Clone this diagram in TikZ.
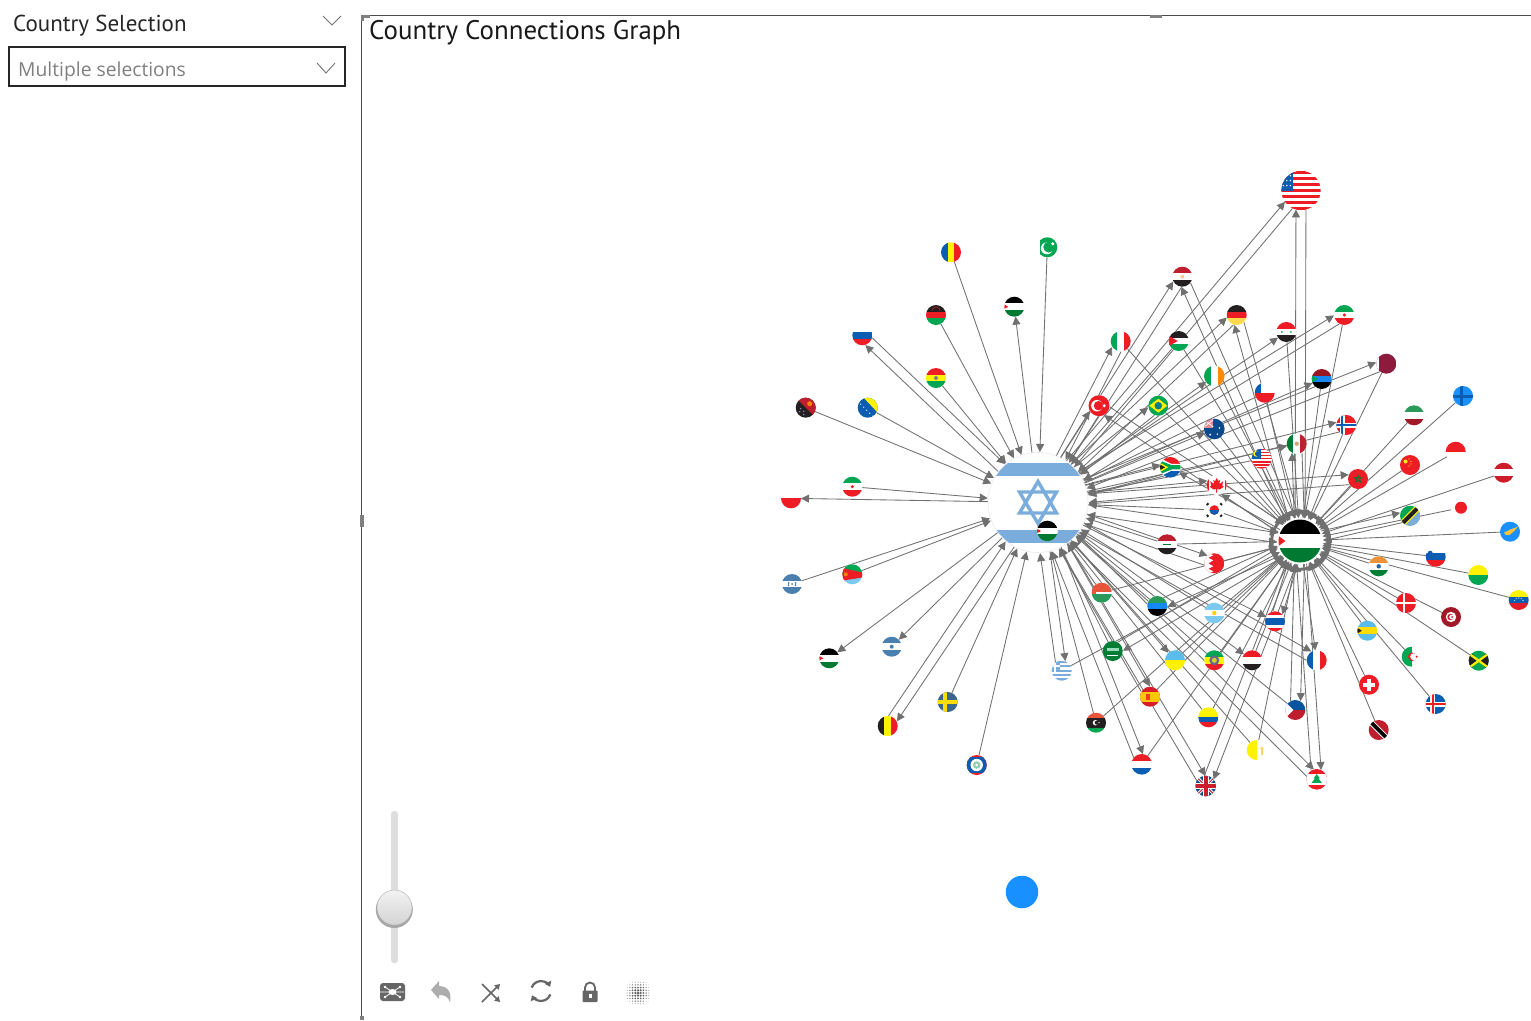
\documentclass[tikz,border=0pt]{standalone}
\usepackage{fontspec}
\setmainfont{PT Sans}
\newfontfamily\segoe{Open Sans}
\usetikzlibrary{arrows.meta,calc,backgrounds}
\definecolor{fr}{HTML}{EE1C25}
\definecolor{fdr}{HTML}{BE1E2D}
\definecolor{fg}{HTML}{00A651}
\definecolor{fdg}{HTML}{007A33}
\definecolor{fb}{HTML}{0A5DB0}
\definecolor{fk}{HTML}{231F20}
\definecolor{fy}{HTML}{FFF200}
\definecolor{fsb}{HTML}{4A80B0}
\definecolor{flb}{HTML}{7AADDC}
\definecolor{fsky}{HTML}{5ABCEB}
\definecolor{fdot}{HTML}{1890FF}
\definecolor{fmaroon}{HTML}{8D1B3D}
\definecolor{fomr}{HTML}{E8553A}
\definecolor{fomg}{HTML}{2A9A5B}
\definecolor{edgecol}{HTML}{707070}
\definecolor{iconcol}{HTML}{666666}
\tikzset{
  flagn/.style={circle,inner sep=0pt,outer sep=0pt,fill=white},
  edgeline/.style={draw=edgecol,line width=0.85pt,-{Triangle[length=8pt,width=8pt]}},
  uiline/.style={draw=#1,line width=0.9pt},
  knob/.style={circle,inner sep=0pt,minimum size=35pt,top color=white!95!black,bottom color=black!17,draw=black!30,line width=0.4pt}
}
\newcommand\fl[5]{\node[flagn,minimum size={2*#4*1pt},path picture={\begin{scope}[shift={(path picture bounding box.center)},x=#4pt,y=-#4pt]#5\end{scope}}] (#1) at (#2,#3) {};}
\newcommand\Rc[5]{\fill[#1] ({#2},{#3}) rectangle ({#4},{#5});}
\newcommand\HT[3]{\Rc{#1}{-1.1}{-1.1}{1.1}{-.33}\Rc{#2}{-1.1}{-.33}{1.1}{.33}\Rc{#3}{-1.1}{.33}{1.1}{1.1}}
\newcommand\VT[3]{\Rc{#1}{-1.1}{-1.1}{-.33}{1.1}\Rc{#2}{-.33}{-1.1}{.33}{1.1}\Rc{#3}{.33}{-1.1}{1.1}{1.1}}
\newcommand\HH[2]{\Rc{#1}{-1.1}{-1.1}{1.1}{0}\Rc{#2}{-1.1}{0}{1.1}{1.1}}
\newcommand\Dt[4]{\fill[#1] ({#2},{#3}) circle (#4);}
% connectors: offset, from, from radius, to, to radius
\newcommand\edg[5]{\draw[edgeline,shorten <=#3pt,shorten >=#5pt] ($(#2)!#1pt!90:(#4)$) -- ($(#4)!#1pt!-90:(#2)$);}
\newcommand\eNO[2]{}
\newcommand\eXI[2]{\edg{0}{#1}{#2}{isr}{50.5}}
\newcommand\eIX[2]{\edg{0}{isr}{50}{#1}{#2}}
\newcommand\eIB[2]{\pgfmathsetmacro\rsh{#2-1}\edg{5}{isr}{50}{#1}{\rsh}\edg{5}{#1}{\rsh}{isr}{50.5}}
\newcommand\eXP[2]{\edg{0}{#1}{#2}{pal}{23}}
\newcommand\ePX[2]{\edg{0}{pal}{23}{#1}{#2}}
\newcommand\ePB[2]{\pgfmathsetmacro\rsh{#2-1}\edg{5}{pal}{23}{#1}{\rsh}\edg{5}{#1}{\rsh}{pal}{23}}
\begin{document}
\begin{tikzpicture}[x=1pt,y=-1pt]
\useasboundingbox (0,0) rectangle (1531,1020);
% ---- panels
\node[anchor=base west,inner sep=0,font=\fontsize{23}{24}\selectfont,text=black!85] (sel) at (13,31) {Country Selection};
\draw[uiline=black!55] (323,16) -- (332,25) -- (341,16);
\node[draw=black!85,line width=1.8pt,outer sep=0pt,minimum width=336pt,minimum height=39pt,anchor=north west,inner sep=0] (box) at (9,47) {};
\node[anchor=base west,inner sep=0,font=\segoe\fontsize{19.3}{24}\selectfont,text=black!50] (multi) at (18,76) {Multiple selections};
\draw[uiline=black!55] (317,63) -- (326,73) -- (335,63);
\draw[draw=black!70,line width=1pt] (1531,15) -- (361.5,15) -- (361.5,1020);
\fill[black!50] (361,15) rectangle (370,18);
\fill[black!50] (361,15) rectangle (364,21);
\fill[black!50] (1150,15) rectangle (1162,18);
\fill[black!50] (360,515) rectangle (364,527);
\fill[black!50] (360,1016) rectangle (364,1020);
\node[anchor=base west,inner sep=0,font=\fontsize{26.9}{30}\selectfont,text=black!90] (title) at (369,39) {Country Connections Graph};
% ---- hubs
\fl{isr}{1038}{502.5}{50}{
  \Rc{flb}{-1.1}{-.79}{1.1}{-.53}\Rc{flb}{-1.1}{.55}{1.1}{.81}
  \draw[flb,line width=3.4pt,line join=miter] (0,-.42)--(.37,.21)--(-.37,.21)--cycle;
  \draw[flb,line width=3.4pt,line join=miter] (0,.42)--(.37,-.21)--(-.37,-.21)--cycle;
}
\draw[blue!30!black!8,line width=0.6pt] (isr) circle (50);
\fl{pal}{1300}{541}{21.5}{
  \HT{black}{white}{fdg}
  \fill[fr] (-1.05,-.27)--(-.68,0)--(-1.05,.27)--cycle;
}
\fl{usa}{1301}{190.5}{19.7}{
  \foreach \i in {0,2,...,12}{\Rc{fr}{-1.1}{-1+\i*.154}{1.1}{-1+\i*.154+.154}}
  \Rc{fb}{-1.1}{-1.1}{-.4}{.05}
  \foreach \i in {-.9,-.72,-.54}{\foreach \j in {-.75,-.5,-.25}{\Dt{white}{\i}{\j}{.04}}}
}
% ---- small flags
\fl{romania}{951}{252.3}{10}{\VT{fb}{fy}{fr}}
\fl{pakistan}{1047.3}{247.3}{10}{\Rc{white}{-1.1}{-1.1}{-.7}{1.1}\Rc{fg}{-.7}{-1.1}{1.1}{1.1}\Dt{white}{-.05}{.1}{.6}\Dt{fg}{.15}{-.02}{.55}\Dt{white}{.55}{-.35}{.17}}
\fl{malawi}{936}{315}{10}{\HT{fk}{fr}{fg}\draw[fr,line width=.4pt] (-.4,-.4) arc (180:360:.4);}
\fl{jorA}{1014.3}{306.7}{10}{\HT{black}{white}{fdg}\fill[fr] (-1.05,-.25)--(-.6,0)--(-1.05,.25)--cycle;}
\fl{russia}{862.3}{335.3}{10}{\HT{white}{fb}{fr}}
\fl{bolivia}{936}{378}{10}{\HT{fr}{fy}{fg}\Dt{gray}{0}{0}{.2}}
\fl{png}{805.7}{407.7}{10}{\fill[fk] (-1.1,-1.1) rectangle (1.1,1.1);\fill[fdr] (-1.1,-1.1)--(1.1,-1.1)--(1.1,1.1)--cycle;\Dt{orange}{.4}{-.4}{.25}\foreach \p/\q in {-.5/.1,-.2/.35,-.6/.4,-.2/.7}{\Dt{white!70!blue}{\p}{\q}{.06}}}
\fl{bosnia}{867.7}{407.7}{10}{\Rc{fb}{-1.1}{-1.1}{1.1}{1.1}\fill[fy] (-.5,-1.1)--(1.1,-1.1)--(1.1,.6)--cycle;\foreach \p in {-.7,-.4,-.1,.2,.5}{\Dt{white}{\p}{\p+.35}{.07}}}
\fl{italy}{1120.7}{341.3}{10}{\VT{fg}{white}{fr}}
\fl{turkey}{1099}{405.7}{10.5}{\Rc{fr}{-1.1}{-1.1}{1.1}{1.1}\Dt{white}{-.2}{0}{.55}\Dt{fr}{-.05}{0}{.45}\Dt{white}{.5}{0}{.16}}
\fl{iranA}{852.3}{486.7}{10}{\HT{fg}{white}{fr}\Dt{fr}{0}{0}{.17}}
\fl{poland}{791}{498.3}{10}{\HH{white}{fr}}
\fl{egypt}{1182.3}{276.7}{10}{\HT{fdr}{white}{fk}\Dt{orange!40}{0}{0}{.2}}
\fl{germany}{1236.7}{315}{10}{\HT{fk}{fr}{yellow!65!orange!70}}
\fl{iranB}{1344.3}{315}{10}{\HT{fg}{white}{fr}\Dt{fr}{0}{0}{.17}}
\fl{syria}{1286.3}{332}{10}{\HT{fr}{white}{fk}\Dt{fg}{-.45}{0}{.1}\Dt{fg}{.45}{0}{.1}}
\fl{jorC}{1178.7}{341}{10}{\HT{fk}{white}{fg}\fill[fr] (-1.05,-.55)--(-.1,0)--(-1.05,.55)--cycle;}
\fl{qatar}{1386.3}{363.7}{10}{\Rc{fmaroon}{-1.1}{-1.1}{1.1}{1.1}\Rc{white}{-1.1}{-1.1}{-.75}{1.1}}
\fl{sudan}{1321.7}{379}{10}{\HT{fdr!80!black}{fdot!85!fb}{black}\fill[fg] (-1.05,-.4)--(-.4,0)--(-1.05,.4)--cycle;}
\fl{ireland}{1214.3}{376}{10.3}{\VT{fg}{white}{orange!90!yellow}}
\fl{chile}{1264.7}{392.7}{10}{\HH{white}{fr}\Rc{fb}{-1.1}{-1.1}{-.4}{0}}
\fl{finland}{1463}{396}{10}{\Rc{fdot}{-1.1}{-1.1}{1.1}{1.1}\Rc{fb}{-.35}{-1.1}{-.05}{1.1}\Rc{fb}{-1.1}{-.15}{1.1}{.15}}
\fl{brazil}{1158.3}{405.7}{10}{\Rc{fg}{-1.1}{-1.1}{1.1}{1.1}\fill[fy] (-.9,0)--(0,-.7)--(.9,0)--(0,.7)--cycle;\Dt{teal}{0}{0}{.38}}
\fl{kuwait}{1414}{415.3}{10}{\HT{fomg}{white}{fdr!85!black}}
\fl{norway}{1346.3}{425}{10}{\Rc{fr}{-1.1}{-1.1}{1.1}{1.1}\Rc{white}{-.65}{-1.1}{-.15}{1.1}\Rc{white}{-1.1}{-.25}{1.1}{.25}\Rc{fb}{-.5}{-1.1}{-.3}{1.1}\Rc{fb}{-1.1}{-.1}{1.1}{.1}}
\fl{australia}{1214.3}{429}{10.3}{\Rc{fb!80!black}{-1.1}{-1.1}{1.1}{1.1}\Rc{fdr!50!white}{-1.1}{-1.1}{-.1}{-.1}\draw[white,line width=.7pt] (-1,-.9)--(-.1,-.2) (-1,-.2)--(-.1,-.9);\Dt{white}{.5}{-.1}{.08}\Dt{white}{-.4}{.55}{.1}\Dt{white}{.3}{.5}{.08}}
\fl{mexico}{1296.7}{443.7}{10}{\VT{fdg}{white}{fdr}\Dt{brown!70}{0}{0}{.22}}
\fl{indonesia}{1455.7}{451.7}{10}{\HH{fr}{white}}
\fl{malaysia}{1261.7}{458.7}{10}{\foreach \i in {0,2,...,12}{\Rc{fr}{-1.1}{-1+\i*.154}{1.1}{-1+\i*.154+.154}}\Rc{fb}{-1.1}{-1.1}{-.05}{.05}\Dt{fy}{-.55}{-.5}{.3}\Dt{fb}{-.42}{-.5}{.25}}
\fl{china}{1410}{465}{10}{\Rc{fr}{-1.1}{-1.1}{1.1}{1.1}\Dt{fy}{-.45}{-.35}{.2}\foreach \p/\q in {-.1/-.6,.1/-.35,.1/-.1,-.1/.1}{\Dt{fy}{\p}{\q}{.07}}}
\fl{safrica}{1170.3}{467.3}{10.3}{\HT{fr}{white}{fb}\fill[white] (-1.1,-.95)--(.1,-.33)--(1.1,-.33)--(1.1,.33)--(.1,.33)--(-1.1,.95)--cycle;\fill[fg] (-1.1,-.7)--(.15,-.2)--(1.1,-.2)--(1.1,.2)--(.15,.2)--(-1.1,.7)--cycle;\fill[fy] (-1.1,-.5)--(-.2,0)--(-1.1,.5)--cycle;\fill[fk] (-1.1,-.33)--(-.5,0)--(-1.1,.33)--cycle;}
\fl{austria}{1503.7}{472.7}{10}{\HT{fdr!70!fr}{white}{fdr!70!fr}}
\fl{morocco}{1358}{479}{10}{\Rc{fr}{-1.1}{-1.1}{1.1}{1.1}\draw[fdg,line width=.7pt] (0,-.4)--(.28,.35)--(-.38,-.12)--(.38,-.12)--(-.28,.35)--cycle;}
\fl{canada}{1216.7}{485}{10}{\Rc{fr}{-1.1}{-1.1}{-.8}{1.1}\Rc{fr}{.8}{-1.1}{1.1}{1.1}\fill[fr] (0,-.7)--(.16,-.4)--(.34,-.5)--(.26,-.1)--(.45,-.22)--(.65,-.38)--(.55,.05)--(.7,.18)--(.3,.45)--(.05,.4)--(.05,.75)--(-.05,.75)--(-.05,.4)--(-.3,.45)--(-.7,.18)--(-.55,.05)--(-.65,-.38)--(-.26,-.1)--(-.34,-.5)--(-.16,-.4)--cycle;}
\fl{korea}{1214.3}{510}{10}{\Dt{fr}{0}{0}{.48}\fill[fb] (-.48,0) arc (180:0:.48) -- cycle;\foreach \p/\q in {-.7/-.6,.7/-.6,-.7/.6,.7/.6}{\Dt{fk}{\p}{\q}{.17}}}
\fl{japan}{1461}{507.7}{10}{\Dt{fr}{0}{0}{.6}}
\fl{tanzania}{1410}{515.7}{10}{\fill[fg] (-1.1,-1.1) rectangle (1.1,1.1);\fill[flb] (-1.1,1.1)--(1.1,1.1)--(1.1,-1.1)--cycle;\draw[fy,line width=6.5pt] (-1.1,1.1)--(1.1,-1.1);\draw[fk,line width=4.2pt] (-1.1,1.1)--(1.1,-1.1);}
\fl{cyprus}{1510}{531.7}{10}{\Rc{fdot}{-1.1}{-1.1}{1.1}{1.1}\fill[orange!60!yellow!80] (-.6,.1)--(.1,-.25)--(.8,-.5)--(.35,0)--(-.1,.35)--(-.45,.3)--cycle;}
\fl{iraq}{1167}{544.3}{10}{\HT{fdr}{white}{fk}\Rc{fdg}{-.4}{-.08}{.4}{.08}}
\fl{bahrain}{1214.3}{563.3}{10}{\Rc{fr}{-1.1}{-1.1}{1.1}{1.1}\fill[white] (-1.1,-1.1)--(-.5,-1)--(-.1,-.8)--(-.6,-.55)--(-.1,-.3)--(-.6,0)--(-.1,.3)--(-.6,.55)--(-.1,.8)--(-.5,1)--(-1.1,1.1)--cycle;}
\fl{slovenia}{1435.7}{556.7}{10}{\HT{white}{fb}{fr}\Dt{fb}{-.55}{-.35}{.25}}
\fl{india}{1378.7}{566.3}{10}{\HT{orange!65!brown!85}{white}{fdg!90!fg}\Dt{fb!80!gray}{0}{0}{.22}}
\fl{ygreen}{1478.3}{575}{10}{\HH{fy}{fg}}
\fl{venezuela}{1518.7}{600}{10}{\HT{fy}{fb}{fr!70!fdr}\foreach \a in {30,60,...,150}{\Dt{white}{.5*cos(\a)}{.3-.5*sin(\a)}{.06}}}
\fl{denmark}{1406}{603}{10}{\Rc{fr}{-1.1}{-1.1}{1.1}{1.1}\Rc{white}{-.3}{-1.1}{-.1}{1.1}\Rc{white}{-1.1}{-.12}{1.1}{.12}}
\fl{estonia}{1157.3}{606}{10}{\HT{fomg}{fdot!85!fb}{black}}
\fl{argentina}{1214.3}{613}{10.3}{\HT{fsky!80!white}{white}{fsky!80!white}\Dt{yellow!70!orange}{0}{0}{.22}}
\fl{tunisia}{1451}{617}{10}{\Rc{fdr!85!black}{-1.1}{-1.1}{1.1}{1.1}\Dt{white}{0}{0}{.52}\Dt{fdr}{-.05}{0}{.32}\Dt{white}{.06}{0}{.24}\Dt{fdr}{.12}{0}{.1}}
\fl{thailand}{1275}{621.3}{10}{\Rc{fr}{-1.1}{-1.1}{1.1}{1.1}\Rc{white}{-1.1}{-.66}{1.1}{.66}\Rc{fb}{-1.1}{-.33}{1.1}{.33}}
\fl{bahamas}{1367.3}{630.7}{10}{\HT{fsky}{fy!80!orange}{fsky}\fill[fk] (-1.1,-.35)--(-.55,0)--(-1.1,.35)--cycle;}
\fl{algeria}{1411.7}{656.7}{10}{\Rc{fg}{-1.1}{-1.1}{0}{1.1}\Dt{fr}{.05}{0}{.42}\Dt{white}{.2}{0}{.35}\Dt{fr}{.5}{0}{.12}}
\fl{ukraine}{1175}{660.3}{10}{\HH{fsky}{fy}}
\fl{ethiopia}{1214.3}{660.3}{10}{\HT{fg}{fy}{fr}\Dt{gray!80!blue}{0}{0}{.5}\Dt{fy!70!gray}{0}{0}{.25}}
\fl{yemen}{1252}{660.3}{10}{\HT{fr}{white}{fk}}
\fl{france}{1316.7}{660.3}{10}{\VT{fb}{white}{fr}}
\fl{jamaica}{1478.7}{660.7}{10}{\Rc{fg}{-1.1}{-1.1}{1.1}{1.1}\fill[fk] (-1.1,-1.1)--(0,0)--(-1.1,1.1)--cycle;\fill[fk] (1.1,-1.1)--(0,0)--(1.1,1.1)--cycle;\draw[fy,line width=2.2pt] (-1.1,-.8)--(1.1,.8) (-1.1,.8)--(1.1,-.8);}
\fl{swiss}{1369}{684.7}{10}{\Rc{fr}{-1.1}{-1.1}{1.1}{1.1}\Rc{white}{-.18}{-.6}{.18}{.6}\Rc{white}{-.6}{-.18}{.6}{.18}}
\fl{spain}{1150}{696.7}{10}{\Rc{fdr!50!fr}{-1.1}{-1.1}{1.1}{1.1}\Rc{yellow!60!orange}{-1.1}{-.5}{1.1}{.5}\Rc{fr!70!orange}{-.45}{-.3}{0}{.3}}
\fl{iceland}{1435.7}{704}{10}{\Rc{fb}{-1.1}{-1.1}{1.1}{1.1}\Rc{white}{-.55}{-1.1}{-.05}{1.1}\Rc{white}{-1.1}{-.25}{1.1}{.25}\Rc{fr}{-.42}{-1.1}{-.18}{1.1}\Rc{fr}{-1.1}{-.12}{1.1}{.12}}
\fl{philippines}{1295.3}{710}{10}{\HH{fb!90!black}{fdr}\fill[white] (-1.1,-.9)--(-.2,0)--(-1.1,.9)--cycle;}
\fl{colombia}{1208.3}{717.3}{10}{\Rc{fy}{-1.1}{-1.1}{1.1}{0}\Rc{fb}{-1.1}{0}{1.1}{.5}\Rc{fr}{-1.1}{.5}{1.1}{1.1}}
\fl{trinidad}{1378.7}{730}{10}{\Rc{fdr}{-1.1}{-1.1}{1.1}{1.1}\draw[white,line width=5.6pt] (-1.1,-1.1)--(1.1,1.1);\draw[black,line width=3.6pt] (-1.1,-1.1)--(1.1,1.1);}
\fl{vatican}{1256.7}{750}{10}{\Rc{fy}{-1.1}{-1.1}{0}{1.1}\Dt{yellow!50!orange!60}{.5}{-.15}{.18}\Rc{yellow!50!orange!60}{.42}{-.15}{.58}{.5}}
\fl{lebanon}{1316.7}{779.3}{10.3}{\Rc{fr}{-1.1}{-1.1}{1.1}{1.1}\Rc{white}{-1.1}{-.55}{1.1}{.55}\fill[fg] (0,-.5)--(.3,-.1)--(.15,-.1)--(.5,.35)--(-.5,.35)--(-.15,-.1)--(-.3,-.1)--cycle;}
\fl{uk}{1205.7}{786}{10.3}{\Rc{fb!80!black}{-1.1}{-1.1}{1.1}{1.1}\draw[white,line width=3pt] (-1.1,-1.1)--(1.1,1.1) (-1.1,1.1)--(1.1,-1.1);\draw[fdr,line width=1pt] (-1.1,-1.1)--(1.1,1.1) (-1.1,1.1)--(1.1,-1.1);\Rc{white}{-.3}{-1.1}{.3}{1.1}\Rc{white}{-1.1}{-.3}{1.1}{.3}\Rc{fdr!70!fr}{-.18}{-1.1}{.18}{1.1}\Rc{fdr!70!fr}{-1.1}{-.18}{1.1}{.18}}
\fl{netherlands}{1141.7}{764.3}{10.3}{\HT{fr}{white}{fb}}
\fl{eritrea}{852.3}{574.3}{10}{\Rc{fg}{-1.1}{-1.1}{1.1}{-.05}\Rc{fsky!80!white}{-1.1}{-.05}{1.1}{1.1}\fill[fr] (-1.1,-.65)--(1.1,-.15)--(1.1,.3)--(-1.1,.65)--cycle;\Dt{orange}{-.65}{0}{.2}}
\fl{honduras}{792}{584}{10}{\HT{fsb}{white}{fsb}\foreach \p/\q in {-.35/-.1,.35/-.1,-.35/.12,.35/.12,0/0}{\Dt{fsb}{\p}{\q}{.1}}}
\fl{salvador}{891.7}{646.7}{10}{\HT{fsb}{white}{fsb}\Dt{fsb}{0}{0}{.2}}
\fl{jorB}{829.3}{658.3}{10}{\HT{black}{white}{fdg}\fill[fr] (-1.05,-.25)--(-.6,0)--(-1.05,.25)--cycle;}
\fl{oman}{1101.7}{592.7}{10}{\Rc{fomr}{-1.1}{-1.1}{1.1}{-.05}\Rc{white}{-1.1}{-.05}{1.1}{.12}\Rc{fomg}{-1.1}{.12}{1.1}{1.1}\Rc{fomr}{-1.1}{-1.1}{-.55}{.12}}
\fl{saudi}{1112.7}{651}{10}{\Rc{fdg!90!fg}{-1.1}{-1.1}{1.1}{1.1}\Rc{fg!40!white}{-.6}{-.35}{.6}{.02}\Rc{white}{-.55}{.42}{.55}{.5}}
\fl{greece}{1061.7}{670.7}{10}{\foreach \i in {0,2,...,8}{\Rc{flb}{-1.1}{-1+\i*.222}{1.1}{-1+\i*.222+.222}}\Rc{flb}{-1.1}{-1}{-.2}{.1}\Rc{white}{-.75}{-1}{-.55}{.1}\Rc{white}{-1.1}{-.55}{-.2}{-.35}}
\fl{sweden}{947.7}{702}{10}{\Rc{fsb!80!black}{-1.1}{-1.1}{1.1}{1.1}\Rc{yellow!80!orange}{-.45}{-1.1}{-.1}{1.1}\Rc{yellow!80!orange}{-1.1}{-.18}{1.1}{.18}}
\fl{belgium}{887.7}{726}{10}{\VT{fk}{fy}{fr}}
\fl{libya}{1096}{722.7}{10}{\Rc{fomr}{-1.1}{-1.1}{1.1}{-.5}\Rc{fk}{-1.1}{-.5}{1.1}{.5}\Rc{fg}{-1.1}{.5}{1.1}{1.1}\Dt{white}{-.05}{0}{.27}\Dt{fk}{.07}{0}{.2}\Dt{white}{.3}{0}{.07}}
\fl{belize}{976.7}{765}{10}{\Rc{fr}{-1.1}{-1.1}{1.1}{1.1}\Rc{fb}{-1.1}{-.8}{1.1}{.8}\Dt{white}{0}{0}{.62}\Dt{fomg!50!white}{0}{0}{.38}\Dt{white}{0}{0}{.15}}
\fl{jorIn}{1047.3}{531}{10.3}{\HT{black}{white}{fdg}\fill[fr] (-1.05,-.25)--(-.6,0)--(-1.05,.25)--cycle;}
% ---- blue dot
\node[circle,fill=fdot,inner sep=0,minimum size=32.5pt] (dot) at (1022,892) {};
% ---- connectors, behind the flags
\begin{pgfonlayer}{background}
\fill[white] (0,0) rectangle (1531,1020);
\foreach \x in {romania,pakistan,malawi,bolivia,png,bosnia,iranA,eritrea,honduras,sweden,belize} {\eXI{\x}{10}}
\foreach \x in {jorA,poland,salvador,jorB} {\eIX{\x}{10}}
\foreach \x in {russia,belgium} {\eIB{\x}{10}}
\foreach \x/\rr/\ii/\pp in {
 italy/10/eIB/eXP, turkey/10.5/eIB/ePB, egypt/10/eIB/ePB, usa/20/eIB/ePB, germany/10/eIB/ePB,
 iranB/10/eIB/eXP, syria/10/eIX/eXP, jorC/10/eXI/eXP, ireland/10/eIX/eXP, chile/10/eXI/eXP,
 qatar/10/eIB/eXP, sudan/10/eIX/eXP, norway/10/eIB/eXP, mexico/10/eIX/ePB, australia/10/eIX/eXP,
 malaysia/10/eXI/eXP, brazil/10/eIB/eXP, safrica/10/eIB/ePX, canada/10/eIB/ePB, morocco/10/eIB/eXP,
 korea/10/eXI/eXP, iraq/10/eXI/eXP, bahrain/10/eIB/eXP, estonia/10/eXI/ePB, argentina/10/eXI/eXP,
 thailand/10/eIX/ePB, france/10/eIB/ePX, yemen/10/eIX/eXP, ethiopia/10/eXI/eXP, ukraine/10/eIX/eXP,
 philippines/10/eXI/ePB, colombia/10/eXI/eXP, vatican/10/eXI/eXP, lebanon/10/eIB/ePB, uk/10/eIB/ePB,
 spain/10/eIB/eXP, libya/10/eXI/eXP, netherlands/10/eIB/eXP, saudi/10/eXI/ePB, oman/10/eXI/eXP,
 greece/10/eIB/eXP, tanzania/10/eNO/ePB,
 finland/10/eNO/eXP, kuwait/10/eNO/eXP, indonesia/10/eNO/eXP, china/10/eNO/eXP, austria/10/eNO/eXP,
 japan/10/eNO/eXP, cyprus/10/eNO/eXP, slovenia/10/eNO/eXP, ygreen/10/eNO/eXP, venezuela/10/eNO/eXP,
 india/10/eNO/eXP, denmark/10/eNO/eXP, tunisia/10/eNO/eXP, bahamas/10/eNO/eXP, algeria/10/eNO/eXP,
 jamaica/10/eNO/eXP, swiss/10/eNO/eXP, iceland/10/eNO/eXP, trinidad/10/eNO/eXP} {
  \csname\ii\endcsname{\x}{\rr}\csname\pp\endcsname{\x}{\rr}
}
\edg{5}{isr}{50}{pal}{23}
\edg{5}{pal}{23}{isr}{50.5}
\draw[edgecol,line width=3pt] (pal) circle (28.3);
\end{pgfonlayer}
% ---- slider
\fill[black!13,rounded corners=3pt] (391,811) rectangle (398,963);
\fill[black!35] (394.3,909.5) circle (18.5);
\node[knob] (thumb) at (394.5,907.5) {};
% ---- toolbar icons
\fill[iconcol,rounded corners=3pt] (380,983) rectangle (405,1001);
\draw[white,line width=.8pt] (385,987)--(392.5,992)--(400,987) (385,997)--(392.5,992)--(400,997) (380,992)--(392,992) (392,992)--(404,992);
\fill[white] (392.5,992) ellipse (4 and 3);
\foreach \p/\q in {385/987,400/987,385/997,400/997}{\fill[white] (\p,\q) circle (1.4);}
\fill[black!32] (431,990)--(439,981)--(439,986) .. controls (448,986) and (452,993) .. (450,1002) .. controls (448,996) and (444,995) .. (439,995) -- (439,999) -- cycle;
\draw[iconcol,line width=1.6pt,-{Triangle[length=5pt,width=6pt]}] (482,984)--(500,1002);
\draw[iconcol,line width=1.6pt,-{Triangle[length=5pt,width=6pt]}] (482,1002)--(500,984);
\draw[iconcol,line width=2.2pt,-{Triangle[length=5pt,width=7pt]}] (541,991) ++(200:10) arc (200:335:10);
\draw[iconcol,line width=2.2pt,-{Triangle[length=5pt,width=7pt]}] (541,991) ++(20:10) arc (20:155:10);
\draw[iconcol,line width=1.8pt] (585,992) -- (585,987.5) arc (180:360:5) -- (595,992);
\fill[iconcol,rounded corners=.8pt] (582.5,990.5) rectangle (597.5,1002);
\fill[white] (588.5,994) rectangle (591.5,998);
\foreach \i in {-4,...,4}{\foreach \j in {-4,...,4}{
  \pgfmathsetmacro{\dd}{sqrt(\i*\i+\j*\j)}
  \pgfmathsetmacro{\sz}{max(0,1.5-.25*\dd)}
  \ifdim\sz pt>0.15pt \fill[iconcol] ({638+\i*2.7},{993+\j*2.7}) circle (\sz);\fi}}
\end{tikzpicture}
\end{document}
